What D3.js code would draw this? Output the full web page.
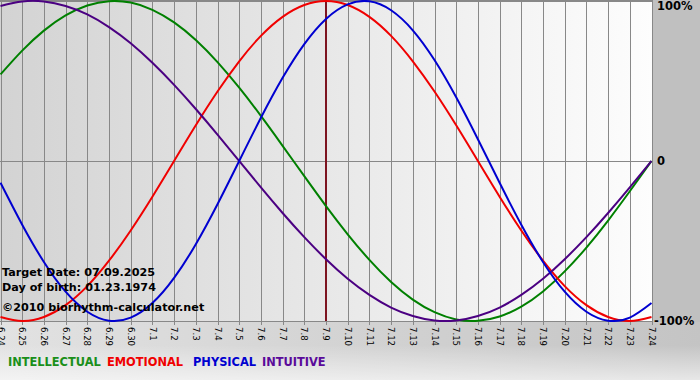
<!DOCTYPE html>
<html><head><meta charset="utf-8">
<script src="https://cdn.jsdelivr.net/npm/d3@7/dist/d3.min.js"></script>
<style>html,body{margin:0;padding:0;background:#c0c0c0;}svg{display:block;}</style>
</head><body><svg id="c" width="700" height="380"></svg>
<script>
const dayLabels = ["6.24","6.25","6.26","6.27","6.28","6.29","6.30","7.1","7.2","7.3","7.4","7.5","7.6","7.7","7.8","7.9","7.10","7.11","7.12","7.13","7.14","7.15","7.16","7.17","7.18","7.19","7.20","7.21","7.22","7.23","7.24"];
const intellectual = [0.541,0.690,0.815,0.910,0.972,0.999,0.990,0.945,0.866,0.756,0.618,0.458,0.282,0.095,-0.095,-0.282,-0.458,-0.618,-0.756,-0.866,-0.945,-0.990,-0.999,-0.972,-0.910,-0.815,-0.690,-0.541,-0.372,-0.189,0];
const emotional = [-0.975,-1,-0.975,-0.901,-0.782,-0.623,-0.434,-0.223,0,0.223,0.434,0.623,0.782,0.901,0.975,1,0.975,0.901,0.782,0.623,0.434,0.223,0,-0.223,-0.434,-0.623,-0.782,-0.901,-0.975,-1,-0.975];
const physical = [-0.136,-0.398,-0.631,-0.817,-0.942,-0.998,-0.979,-0.888,-0.731,-0.520,-0.270,0,0.270,0.520,0.731,0.888,0.979,0.998,0.942,0.817,0.631,0.398,0.136,-0.136,-0.398,-0.631,-0.817,-0.942,-0.998,-0.979,-0.888];
const intuitive = [0.969,0.997,0.997,0.969,0.916,0.837,0.736,0.614,0.476,0.325,0.165,0,-0.165,-0.325,-0.476,-0.614,-0.736,-0.837,-0.916,-0.969,-0.997,-0.997,-0.969,-0.916,-0.837,-0.736,-0.614,-0.476,-0.325,-0.165,0];
const seriesNames = ["INTELLECTUAL","EMOTIONAL","PHYSICAL","INTUITIVE"];
const yTickLabels = ["100%","0","-100%"];
const yTickValues = [1,0,-1];
const targetIndex = 15;
const infoLines = ["Target Date: 07.09.2025","Day of birth: 01.23.1974","\u00a92010 biorhythm-calculator.net"];

const colors = {INTELLECTUAL:"#008000",EMOTIONAL:"#f00000",PHYSICAL:"#0000d0",INTUITIVE:"#4b0082"};
const legendColors = {INTELLECTUAL:"#1a8f1a",EMOTIONAL:"#f00000",PHYSICAL:"#0000d0",INTUITIVE:"#5a0a9a"};
const dataBy = {INTELLECTUAL:intellectual,EMOTIONAL:emotional,PHYSICAL:physical,INTUITIVE:intuitive};

const svg = d3.select("#c");
const W = 700, H = 380;
const L = 0, R = 651, T = 1, B = 321;
const x = d3.scaleLinear().domain([0, dayLabels.length-1]).range([L+0.5, R+0.5]);
const y = d3.scaleLinear().domain([-1, 1]).range([B, T]);

const defs = svg.append("defs");
const g1 = defs.append("linearGradient").attr("id","plotbg").attr("x1","0").attr("x2","1").attr("y1","0").attr("y2","0");
g1.append("stop").attr("offset","0").attr("stop-color","#d3d3d3");
g1.append("stop").attr("offset","1").attr("stop-color","#fdfdfd");
const g2 = defs.append("linearGradient").attr("id","botbg").attr("x1","0").attr("x2","1").attr("y1","0").attr("y2","0");
g2.append("stop").attr("offset","0").attr("stop-color","#e2e2e2");
g2.append("stop").attr("offset","1").attr("stop-color","#c4c4c4");
const g3 = defs.append("linearGradient").attr("id","botfade").attr("x1","0").attr("x2","0").attr("y1","0").attr("y2","1");
g3.append("stop").attr("offset","0").attr("stop-color","#ffffff").attr("stop-opacity","0");
g3.append("stop").attr("offset","1").attr("stop-color","#ffffff").attr("stop-opacity","0.6");

svg.append("rect").attr("width",W).attr("height",H).attr("fill","#c0c0c0");
svg.append("rect").attr("x",0).attr("y",B+1).attr("width",W).attr("height",H-B-1).attr("fill","url(#botbg)");
svg.append("rect").attr("x",0).attr("y",345).attr("width",W).attr("height",H-345).attr("fill","url(#botfade)");
svg.append("rect").attr("x",L).attr("y",0).attr("width",R-L+1).attr("height",B).attr("fill","url(#plotbg)");

// vertical grid + ticks
const xAxis = d3.axisBottom(x).tickValues(d3.range(dayLabels.length)).tickSize(B+4).tickFormat(i => dayLabels[i]);
const ax = svg.append("g").call(xAxis);
ax.select(".domain").remove();
ax.selectAll(".tick line").attr("stroke","#888").attr("stroke-width",1).attr("shape-rendering","crispEdges");
ax.selectAll(".tick text")
  .attr("transform", `translate(0,${B+4}) rotate(90)`)
  .attr("x", 2).attr("y", 0).attr("dy","0.35em")
  .attr("text-anchor","start")
  .attr("font-family","'DejaVu Sans Condensed', 'DejaVu Sans', sans-serif").attr("font-size","9.5px").attr("fill","#000");

// horizontal lines
[1,0,-1].forEach(v => {
  svg.append("line").attr("x1",L).attr("x2",R+1).attr("y1",Math.round(y(v))+0.5).attr("y2",Math.round(y(v))+0.5)
    .attr("stroke","#888").attr("stroke-width",1).attr("shape-rendering","crispEdges");
});
svg.append("line").attr("x1",L).attr("x2",R+1).attr("y1",0.5).attr("y2",0.5).attr("stroke","#888");

// target line
svg.append("line").attr("x1",x(targetIndex)).attr("x2",x(targetIndex)).attr("y1",0).attr("y2",B)
  .attr("stroke","#7d1420").attr("stroke-width",2);

// curves
const line = d3.line().x((d,i)=>x(i)).y(d=>y(d)).curve(d3.curveNatural);
const order = ["INTELLECTUAL","EMOTIONAL","INTUITIVE","PHYSICAL"];
order.forEach(n => {
  svg.append("path").attr("d", line(dataBy[n])).attr("fill","none")
    .attr("stroke", colors[n]).attr("stroke-width",2);
});

// info text
const infoY = [276, 291, 311];
infoLines.forEach((t,i) => {
  svg.append("text").attr("x",2).attr("y",infoY[i]).text(t)
    .attr("font-family","DejaVu Sans, Verdana, sans-serif").attr("font-size","11.2px").attr("font-weight","bold").attr("fill","#000");
});

// right labels
const yAxis = d3.axisRight(y).tickValues(yTickValues).tickSize(0).tickFormat((d,i)=>yTickLabels[i]);
const ay = svg.append("g").attr("transform",`translate(${R+2},0)`).call(yAxis);
ay.select(".domain").remove();
ay.selectAll(".tick text").attr("x",4).attr("dy","0.3em")
  .attr("font-family","DejaVu Sans, Verdana, sans-serif").attr("font-size","11.5px").attr("font-weight","bold").attr("fill","#000");
ay.selectAll(".tick").filter(d=>d===1).select("text").attr("dy","0.75em");
ay.selectAll(".tick").filter(d=>d===-1).select("text").attr("x",1).attr("dy","0.3em");

// legend
const legX = [8, 107, 193, 262];
seriesNames.forEach((n,i) => {
  svg.append("text").attr("x",legX[i]).attr("y",366).text(n)
    .attr("font-family","DejaVu Sans, Verdana, sans-serif").attr("font-size","11.4px").attr("font-weight","bold")
    .attr("fill",legendColors[n]);
});
</script></body></html>
